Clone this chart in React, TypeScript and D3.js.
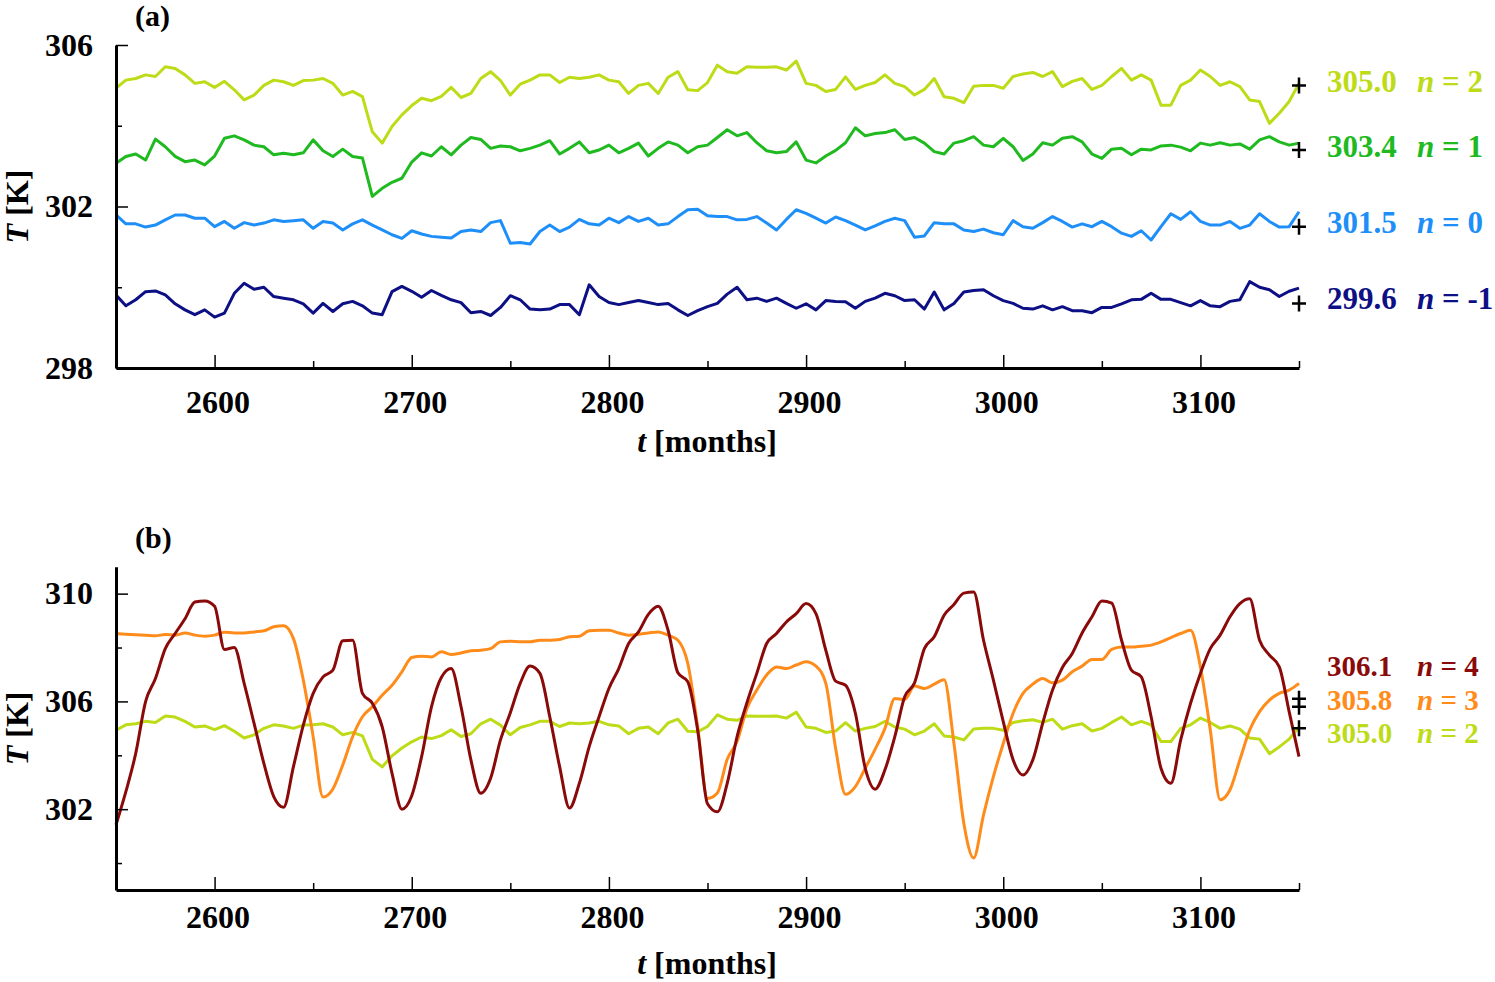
import React, { useEffect, useRef } from "react";
import * as d3 from "d3";

// sampling grid of the series (every 5 months)
const months = d3.range(2550, 3151, 5);

// panel (a) / (b) series, temperature in K
const tN2 = [
  304.93, 305.13, 305.17, 305.26, 305.22, 305.46, 305.42, 305.26, 305.05, 305.09,
  304.95, 305.10, 304.89, 304.64, 304.76, 305.00, 305.13, 305.09, 305.00, 305.12,
  305.13, 305.17, 305.05, 304.76, 304.85, 304.72, 303.85, 303.57, 303.98, 304.27,
  304.50, 304.68, 304.62, 304.73, 304.95, 304.70, 304.80, 305.17, 305.34, 305.12,
  304.76, 305.03, 305.13, 305.26, 305.26, 305.07, 305.20, 305.17, 305.20, 305.26,
  305.13, 305.09, 304.80, 305.00, 305.05, 304.80, 305.20, 305.34, 304.89, 304.87,
  305.07, 305.50, 305.34, 305.30, 305.46, 305.45, 305.45, 305.46, 305.38, 305.60,
  305.05, 305.00, 304.85, 304.90, 305.21, 304.90, 305.00, 305.07, 305.26, 305.05,
  304.97, 304.76, 304.90, 305.17, 304.72, 304.68, 304.57, 304.98, 305.00, 305.00,
  304.93, 305.22, 305.28, 305.32, 305.22, 305.34, 304.97, 305.10, 305.17, 304.90,
  305.00, 305.22, 305.42, 305.13, 305.26, 305.13, 304.51, 304.51, 305.00, 305.13,
  305.38, 305.22, 305.00, 305.09, 304.97, 304.64, 304.60, 304.06, 304.31, 304.60,
  305.05,
];

const tN1 = [
  303.07, 303.24, 303.30, 303.15, 303.67, 303.48, 303.24, 303.11, 303.15, 303.03,
  303.25, 303.69, 303.75, 303.65, 303.52, 303.48, 303.28, 303.32, 303.28, 303.33,
  303.65, 303.38, 303.24, 303.42, 303.24, 303.20, 302.25, 302.45, 302.60, 302.70,
  303.10, 303.33, 303.25, 303.48, 303.28, 303.52, 303.71, 303.66, 303.44, 303.50,
  303.48, 303.38, 303.44, 303.52, 303.63, 303.30, 303.44, 303.60, 303.33, 303.40,
  303.52, 303.33, 303.44, 303.57, 303.25, 303.44, 303.60, 303.52, 303.33, 303.48,
  303.52, 303.71, 303.90, 303.75, 303.83, 303.58, 303.38, 303.33, 303.36, 303.60,
  303.15, 303.08, 303.25, 303.39, 303.58, 303.95, 303.75, 303.81, 303.83, 303.90,
  303.66, 303.71, 303.57, 303.36, 303.30, 303.57, 303.63, 303.73, 303.52, 303.48,
  303.69, 303.48, 303.14, 303.30, 303.58, 303.52, 303.69, 303.73, 303.60, 303.30,
  303.19, 303.42, 303.44, 303.28, 303.42, 303.40, 303.50, 303.52, 303.47, 303.38,
  303.57, 303.52, 303.58, 303.52, 303.55, 303.42, 303.65, 303.73, 303.60, 303.52,
  303.57,
];

const tN0 = [
  301.79, 301.57, 301.57, 301.49, 301.54, 301.67, 301.79, 301.79, 301.71, 301.71,
  301.50, 301.63, 301.46, 301.60, 301.54, 301.59, 301.67, 301.63, 301.65, 301.67,
  301.46, 301.63, 301.59, 301.42, 301.57, 301.67, 301.54, 301.42, 301.30, 301.21,
  301.40, 301.32, 301.26, 301.24, 301.22, 301.38, 301.42, 301.38, 301.60, 301.65,
  301.09, 301.11, 301.07, 301.38, 301.54, 301.38, 301.49, 301.68, 301.57, 301.54,
  301.71, 301.60, 301.75, 301.63, 301.71, 301.54, 301.57, 301.75, 301.92, 301.93,
  301.77, 301.75, 301.75, 301.67, 301.68, 301.75, 301.59, 301.42, 301.68, 301.92,
  301.83, 301.71, 301.59, 301.74, 301.65, 301.54, 301.42, 301.52, 301.63, 301.71,
  301.65, 301.24, 301.27, 301.60, 301.57, 301.57, 301.42, 301.38, 301.44, 301.35,
  301.30, 301.65, 301.50, 301.46, 301.60, 301.75, 301.63, 301.49, 301.57, 301.50,
  301.63, 301.50, 301.34, 301.26, 301.40, 301.17, 301.50, 301.82, 301.68, 301.87,
  301.63, 301.54, 301.54, 301.63, 301.46, 301.54, 301.82, 301.63, 301.49, 301.50,
  301.87,
];

const tNm1 = [
  299.81, 299.54, 299.69, 299.89, 299.91, 299.81, 299.59, 299.44, 299.32, 299.44,
  299.26, 299.36, 299.85, 300.10, 299.95, 300.00, 299.77, 299.73, 299.69, 299.59,
  299.36, 299.60, 299.40, 299.59, 299.65, 299.54, 299.36, 299.32, 299.89, 300.02,
  299.90, 299.75, 299.92, 299.80, 299.69, 299.62, 299.37, 299.40, 299.30, 299.50,
  299.79, 299.69, 299.46, 299.44, 299.46, 299.57, 299.57, 299.32, 300.06, 299.77,
  299.62, 299.57, 299.62, 299.67, 299.62, 299.57, 299.60, 299.44, 299.30, 299.42,
  299.52, 299.60, 299.83, 300.00, 299.69, 299.73, 299.65, 299.73, 299.60, 299.48,
  299.59, 299.44, 299.67, 299.65, 299.64, 299.48, 299.65, 299.73, 299.85, 299.79,
  299.67, 299.69, 299.46, 299.88, 299.44, 299.60, 299.88, 299.92, 299.94, 299.79,
  299.67, 299.60, 299.48, 299.46, 299.54, 299.44, 299.52, 299.42, 299.42, 299.37,
  299.50, 299.50, 299.59, 299.69, 299.70, 299.85, 299.70, 299.70, 299.62, 299.54,
  299.67, 299.54, 299.52, 299.65, 299.69, 300.14, 300.00, 299.94, 299.77, 299.90,
  299.98,
];

const tN3 = [
  308.52, 308.49, 308.47, 308.46, 308.44, 308.48, 308.46, 308.54, 308.46, 308.42,
  308.46, 308.57, 308.54, 308.54, 308.58, 308.62, 308.77, 308.81, 308.33, 306.79,
  304.69, 302.45, 302.75, 303.64, 304.69, 305.43, 305.80, 306.23, 306.60, 307.10,
  307.63, 307.68, 307.65, 307.84, 307.74, 307.80, 307.88, 307.90, 307.96, 308.21,
  308.23, 308.21, 308.21, 308.27, 308.27, 308.30, 308.40, 308.42, 308.62, 308.64,
  308.64, 308.54, 308.46, 308.49, 308.54, 308.58, 308.46, 308.27, 307.41, 305.06,
  302.40, 302.60, 303.85, 304.51, 305.74, 306.42, 306.98, 307.28, 307.22, 307.35,
  307.47, 307.31, 306.67, 304.25, 302.55, 302.84, 303.52, 304.22, 305.00, 306.11,
  306.07, 306.57, 306.48, 306.64, 306.80, 304.44, 301.48, 300.19, 301.79, 303.21,
  304.44, 305.56, 306.30, 306.64, 306.85, 306.69, 306.79, 307.10, 307.31, 307.56,
  307.56, 307.93, 308.02, 308.02, 308.05, 308.09, 308.21, 308.37, 308.52, 308.64,
  307.28, 304.94, 302.35, 302.72, 303.83, 304.94, 305.62, 306.05, 306.30, 306.42,
  306.67,
];

const tN4 = [
  301.42, 302.65, 304.07, 305.99, 306.85, 307.96, 308.52, 309.07, 309.69, 309.73,
  309.53, 307.93, 308.00, 306.67, 305.19, 303.70, 302.47, 302.07, 303.58, 305.12,
  306.30, 306.91, 307.16, 308.25, 308.27, 306.30, 305.93, 305.06, 303.33, 302.00,
  302.50, 303.95, 305.80, 306.89, 307.22, 305.80, 303.83, 302.59, 303.15, 304.57,
  305.58, 306.67, 307.31, 307.04, 305.43, 303.58, 302.04, 302.96, 304.32, 305.43,
  306.48, 307.22, 308.15, 308.58, 309.23, 309.53, 308.64, 307.06, 306.73, 304.94,
  302.20, 301.90, 302.96, 304.69, 305.95, 307.04, 308.15, 308.52, 308.95, 309.26,
  309.63, 309.26, 307.90, 306.75, 306.60, 305.56, 303.52, 302.74, 303.46, 304.69,
  306.17, 306.69, 307.96, 308.40, 309.20, 309.60, 310.02, 310.06, 308.27, 306.79,
  305.25, 303.83, 303.27, 303.83, 305.19, 306.42, 307.26, 307.78, 308.54, 309.14,
  309.73, 309.65, 308.27, 307.16, 306.91, 305.43, 303.52, 302.96, 304.57, 305.93,
  307.04, 307.96, 308.46, 309.14, 309.63, 309.81, 308.27, 307.72, 307.28, 305.62,
  303.95,
];

// time means shown at the right edge (same order as the series of each panel)
const meansA = [305.0, 303.4, 301.5, 299.6];
const meansB = [305.0, 305.8, 306.1];
const nA = ["2", "1", "0", "-1"];
const nB = ["2", "3", "4"];

const xMajor = [2600, 2700, 2800, 2900, 3000, 3100];
const xMinor = [2550, 2650, 2750, 2850, 2950, 3050, 3150];

const colN2 = "#bedb18";
const colN1 = "#1fba1f";
const colN0 = "#1e8ff8";
const colNm1 = "#0d0f85";
const colN3 = "#ff8c1a";
const colN4 = "#8a0a0a";

const FONT = "'Liberation Serif', 'Times New Roman', serif";

type Panel = {
  tag: string;
  top: number;
  bottom: number;
  yDomain: [number, number];
  yMajor: number[];
  yMinor: number[];
  series: number[][];
  smooth: boolean[];
  colors: string[];
  means: number[];
  ns: string[];
  nudge: number[];
  labelSize: number;
  xPad: number;
};

const panels: Panel[] = [
  {
    tag: "(a)",
    top: 45,
    bottom: 368,
    yDomain: [298, 306],
    yMajor: [298, 302, 306],
    yMinor: [300, 304],
    series: [tN2, tN1, tN0, tNm1],
    smooth: [false, false, false, false],
    colors: [colN2, colN1, colN0, colNm1],
    means: meansA,
    ns: nA,
    nudge: [7, 7, 6, 6],
    labelSize: 31,
    xPad: 22,
  },
  {
    tag: "(b)",
    top: 566.7,
    bottom: 890,
    yDomain: [299, 311],
    yMajor: [302, 306, 310],
    yMinor: [300, 304, 308],
    series: [tN2, tN3, tN4],
    smooth: [false, true, true],
    colors: [colN2, colN3, colN4],
    means: meansB,
    ns: nB,
    nudge: [15, 3, -23],
    labelSize: 29,
    xPad: 15,
  },
];

const App: React.FC = () => {
  const svgRef = useRef<SVGSVGElement | null>(null);

  useEffect(() => {
    const svgElement = svgRef.current;
    if (!svgElement) return;
    const svg = d3.select(svgElement);
    svg.selectAll("*").remove();

    const x = d3.scaleLinear().domain([2550, 3150]).range([116, 1299]);

    panels.forEach((p) => {
      const y = d3.scaleLinear().domain(p.yDomain).range([p.bottom, p.top]);
      const g = svg.append("g").attr("font-family", FONT).attr("font-weight", "bold");

      // lines
      p.series.forEach((s, i) => {
        const line = d3
          .line<number>()
          .x((_, j) => x(months[j]))
          .y((d) => y(d))
          .curve(p.smooth[i] ? d3.curveMonotoneX : d3.curveLinear);
        g.append("path")
          .datum(s)
          .attr("d", line)
          .attr("fill", "none")
          .attr("stroke", p.colors[i])
          .attr("stroke-width", 3)
          .attr("stroke-linejoin", "round");
      });

      // x axis, ticks pointing inward
      g.append("g")
        .attr("transform", `translate(0,${p.bottom})`)
        .call(
          d3
            .axisBottom(x)
            .tickValues(xMajor)
            .tickSizeInner(-13)
            .tickSizeOuter(0)
            .tickPadding(p.xPad)
            .tickFormat(d3.format("d"))
        )
        .call((a) => a.select(".domain").attr("stroke-width", 3).attr("stroke", "#000"))
        .call((a) => a.selectAll(".tick line").attr("stroke-width", 1.5).attr("stroke", "#000"))
        .call((a) =>
          a
            .selectAll(".tick text")
            .attr("font-size", 32)
            .attr("font-family", FONT)
            .attr("dx", 3)
            .attr("fill", "#000")
        );
      g.append("g")
        .attr("transform", `translate(0,${p.bottom})`)
        .call(d3.axisBottom(x).tickValues(xMinor).tickSizeInner(-7).tickSizeOuter(0).tickFormat(() => ""))
        .call((a) => a.select(".domain").remove())
        .call((a) => a.selectAll(".tick line").attr("stroke-width", 1.5).attr("stroke", "#000"));

      // y axis
      g.append("g")
        .attr("transform", `translate(116,0)`)
        .call(
          d3
            .axisLeft(y)
            .tickValues(p.yMajor)
            .tickSizeInner(-12)
            .tickSizeOuter(0)
            .tickPadding(23)
            .tickFormat(d3.format("d"))
        )
        .call((a) => a.select(".domain").attr("stroke-width", 3).attr("stroke", "#000"))
        .call((a) => a.selectAll(".tick line").attr("stroke-width", 1.5).attr("stroke", "#000"))
        .call((a) =>
          a
            .selectAll(".tick text")
            .attr("font-size", 32)
            .attr("font-family", FONT)
            .attr("fill", "#000")
        );
      g.append("g")
        .attr("transform", `translate(116,0)`)
        .call(d3.axisLeft(y).tickValues(p.yMinor).tickSizeInner(-6).tickSizeOuter(0).tickFormat(() => ""))
        .call((a) => a.select(".domain").remove())
        .call((a) => a.selectAll(".tick line").attr("stroke-width", 1.5).attr("stroke", "#000"));

      // axis titles
      g.append("text")
        .attr("x", 707)
        .attr("y", p.bottom + 84)
        .attr("text-anchor", "middle")
        .attr("font-size", 32)
        .call((t) => t.append("tspan").attr("font-style", "italic").text("t"))
        .call((t) => t.append("tspan").text(" [months]"));

      g.append("text")
        .attr("transform", `translate(28,${(p.top + p.bottom) / 2}) rotate(-90)`)
        .attr("text-anchor", "middle")
        .attr("font-size", 32)
        .call((t) => t.append("tspan").attr("font-style", "italic").text("T"))
        .call((t) => t.append("tspan").text(" [K]"));

      // panel tag
      g.append("text")
        .attr("x", 135)
        .attr("y", p.top - 19)
        .attr("font-size", 30)
        .text(p.tag);

      // mean markers and labels
      p.means.forEach((m, i) => {
        const ym = y(m);
        const xe = x(3150);
        g.append("path")
          .attr("d", `M${xe - 7},${ym}H${xe + 7}M${xe},${ym - 8}V${ym + 8}`)
          .attr("stroke", "#000")
          .attr("stroke-width", 2.5)
          .attr("fill", "none");
        const t = g
          .append("text")
          .attr("x", 1327)
          .attr("y", ym + p.nudge[i])
          .attr("font-size", p.labelSize)
          .attr("fill", p.colors[i]);
        t.append("tspan").text(m.toFixed(1));
        t.append("tspan").attr("x", 1417).attr("font-style", "italic").text("n");
        t.append("tspan").text(` = ${p.ns[i]}`);
      });
    });
  }, []);

  return (
    <div>
      <style>{"body{margin:0;background:#fff}"}</style>
      <svg ref={svgRef} width={1495} height={982} style={{ display: "block", background: "#fff" }} />
    </div>
  );
};

export default App;
